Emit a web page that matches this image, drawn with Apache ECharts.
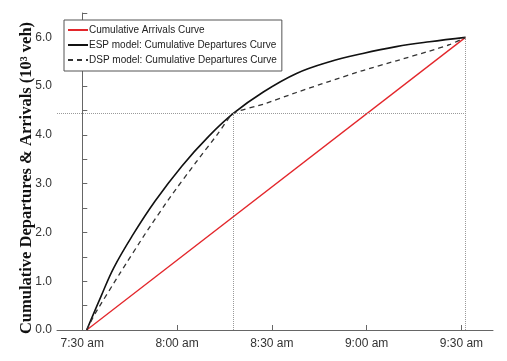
<!DOCTYPE html>
<html>
<head>
<meta charset="utf-8">
<script src="https://cdn.jsdelivr.net/npm/echarts@6/dist/echarts.min.js"></script>
<style>
  html, body { margin: 0; padding: 0; background: #fff; }
  #main { width: 507px; height: 361px; }
</style>
</head>
<body>
<div id="main"></div>
<script>
// x values are minutes after 7:30 am, y values are 10^3 veh
var tickMinutes = [0, 30, 60, 90, 120];
var tickLabels = ['7:30 am', '8:00 am', '8:30 am', '9:00 am', '9:30 am'];

var arrTime = [1.4, 121.3];
var arrVeh = [0, 6.0];

var espTime = [1.4, 6, 10, 16, 23, 31.5, 40, 47.8, 57.3, 67.8, 78.3, 88.8, 99.4, 109.9, 121.3];
var espVeh = [0, 0.70, 1.28, 1.95, 2.64, 3.36, 3.97, 4.44, 4.88, 5.26, 5.50, 5.67, 5.81, 5.91, 6.0];

var dspTime = [1.4, 4.1, 12, 20, 28, 36, 43, 47.8, 57.3, 67.8, 78.3, 88.8, 99.4, 109.9, 116.2, 121.3];
var dspVeh = [0, 0.34, 1.17, 1.98, 2.74, 3.44, 4.03, 4.44, 4.63, 4.87, 5.10, 5.32, 5.52, 5.72, 5.85, 6.0];

// dotted guide lines
var breakTime = 47.8, breakVeh = 4.44;
var endTime = 121.3, endVeh = 6.0;

function zip(xs, ys) {
  return xs.map(function (x, i) { return [x, ys[i]]; });
}

var yTicks = [];
for (var v = 0; v <= 6.5; v += 0.5) yTicks.push(v);

var chart = echarts.init(document.getElementById('main'));
var guide = { color: '#9a9a9a', type: 'dotted', width: 1 };

chart.setOption({
  animation: false,
  grid: { left: 57, right: 14, top: 13, bottom: 31 },
  legend: {
    orient: 'vertical',
    left: 64, top: 20,
    padding: [5, 5, 6, 3],
    itemGap: 5,
    itemWidth: 20, itemHeight: 10,
    itemStyle: { opacity: 0 },
    backgroundColor: '#fff',
    borderColor: '#555', borderWidth: 1,
    textStyle: { fontFamily: 'Liberation Sans, Arial', fontSize: 10, color: '#222', padding: [0, 0, 0, -4] },
    data: ['Cumulative Arrivals Curve', 'ESP model: Cumulative Departures Curve', 'DSP model: Cumulative Departures Curve']
  },
  xAxis: {
    type: 'value', min: -8, max: 130,
    splitLine: { show: false },
    axisLine: { lineStyle: { color: '#666' } },
    axisTick: { inside: true, length: 5, customValues: tickMinutes, lineStyle: { color: '#666' } },
    axisLabel: {
      customValues: tickMinutes,
      margin: 8,
      fontFamily: 'Liberation Sans, Arial', fontSize: 12, color: '#333',
      formatter: function (val) { return tickLabels[tickMinutes.indexOf(val)]; }
    }
  },
  yAxis: {
    type: 'value', min: 0, max: 6.5,
    splitLine: { show: false },
    axisLine: { show: true, lineStyle: { color: '#666' } },
    axisTick: { show: true, inside: true, length: 5, customValues: yTicks, lineStyle: { color: '#666' } },
    axisLabel: {
      customValues: [0, 1, 2, 3, 4, 5, 6],
      margin: 5,
      fontFamily: 'Liberation Sans, Arial', fontSize: 12, color: '#333',
      formatter: function (val) { return val.toFixed(1); }
    }
  },
  graphic: [{
    type: 'text',
    x: 27, y: 178,
    rotation: Math.PI / 2,
    style: {
      text: 'Cumulative Departures & Arrivals (10³ veh)',
      fontFamily: 'Liberation Serif, Times New Roman', fontWeight: 'bold', fontSize: 16.5,
      fill: '#111', align: 'center', verticalAlign: 'middle'
    }
  }],
  series: [
    {
      name: 'guides', type: 'line', data: [], silent: true,
      markLine: {
        symbol: 'none', silent: true, label: { show: false },
        lineStyle: guide,
        data: [
          [{ coord: [-8, breakVeh] }, { coord: [endTime, breakVeh] }],
          [{ coord: [breakTime, 0] }, { coord: [breakTime, breakVeh] }],
          [{ coord: [endTime, 0] }, { coord: [endTime, endVeh] }]
        ]
      }
    },
    {
      name: 'Cumulative Arrivals Curve', type: 'line', symbol: 'none',
      data: zip(arrTime, arrVeh),
      lineStyle: { color: '#e3262b', width: 1.3 }, itemStyle: { color: '#e3262b' }
    },
    {
      name: 'ESP model: Cumulative Departures Curve', type: 'line', symbol: 'none', smooth: 0.4,
      data: zip(espTime, espVeh),
      lineStyle: { color: '#111', width: 1.6 }, itemStyle: { color: '#111' }
    },
    {
      name: 'DSP model: Cumulative Departures Curve', type: 'line', symbol: 'none', smooth: 0.2,
      data: zip(dspTime, dspVeh),
      lineStyle: { color: '#333', width: 1.3, type: [5, 4] }, itemStyle: { color: '#333' }
    }
  ]
});
</script>
</body>
</html>
